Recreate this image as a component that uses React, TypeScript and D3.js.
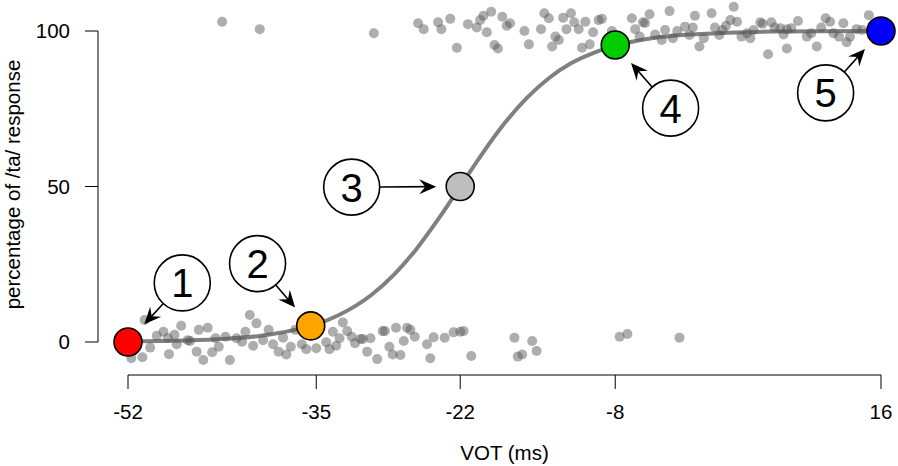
import React from "react";
import * as d3 from "d3";

// x ticks (VOT, ms) and y ticks (percentage)
const xTicks = [-52, -35, -22, -8, 16];
const yTicks = [0, 50, 100];

// scatter of individual responses: [VOT, percentage]
const lowDots: [number, number][] = [
  [-50.5, 7.1], [-47.2, 5.2], [-48.8, 3.3], [-49.4, 2.0], [-48.4, 1.3], [-47.8, 2.3], [-50.0, -1.8],
  [-50.7, -4.9], [-51.7, -5.2], [-48.3, -3.9], [-47.6, -0.7], [-46.6, 0.6], [-46.4, 0.3], [-45.6, 3.9],
  [-44.8, 4.6], [-45.8, -3.1], [-45.2, -5.8], [-44.4, -3.3], [-44.1, 1.2], [-43.8, -1.5], [-43.2, 1.7],
  [-42.8, -5.8], [-42.2, 1.2], [-41.7, 0.1], [-41.4, 3.3], [-41.0, 8.7], [-40.4, 6.0], [-40.7, -1.2],
  [-39.3, 3.9], [-39.8, 0.6], [-38.9, -0.7], [-38.4, -3.1], [-38.0, 1.4], [-37.7, -4.0], [-37.3, -1.5],
  [-36.9, 3.9], [-36.3, -0.7], [-35.9, -2.3], [-35.0, -2.0], [-34.1, -0.1], [-33.8, -2.3], [-33.5, 3.3],
  [-33.2, -1.2], [-32.9, 1.2], [-32.6, 6.3], [-32.2, 3.5], [-31.8, 1.7], [-31.5, -0.4], [-31.0, 1.0],
  [-30.8, 1.0], [-30.1, 1.2], [-30.4, -3.1], [-29.5, -5.5], [-29.0, 3.5], [-28.8, 3.5], [-28.4, -1.5],
  [-28.1, -4.0], [-27.8, 4.6], [-27.4, -4.2], [-27.1, 0.3], [-26.8, 4.6], [-26.5, 3.9], [-26.1, 1.7],
  [-25.0, -0.7], [-24.7, -5.2], [-24.4, 1.5], [-23.4, 1.4], [-22.6, 3.1], [-22.0, 3.3], [-21.7, 3.5],
  [-21.0, -4.5], [-17.1, 1.4], [-15.5, 0.3], [-15.1, -2.9], [-16.4, -4.0], [-16.8, -4.7], [-7.6, 1.7],
  [-6.9, 2.6], [-2.2, 1.4],
];

const highDots: [number, number][] = [
  [-43.5, 103.0], [-40.1, 100.6], [-29.8, 99.3], [-25.8, 102.5], [-25.3, 100.6], [-24.0, 102.8],
  [-23.7, 100.6], [-22.9, 103.9], [-22.3, 94.6], [-21.3, 102.2], [-20.5, 101.1], [-20.2, 103.5],
  [-19.9, 104.9], [-19.2, 106.2], [-19.6, 99.6], [-18.9, 95.5], [-18.6, 94.4], [-18.2, 104.6],
  [-17.8, 101.7], [-17.5, 102.5], [-16.2, 100.0], [-15.8, 95.7], [-14.7, 100.6], [-14.4, 105.7],
  [-14.0, 104.1], [-13.7, 95.0], [-13.4, 98.2], [-13.1, 97.1], [-12.7, 104.3], [-12.4, 100.6],
  [-12.0, 105.7], [-11.7, 102.8], [-11.3, 100.6], [-10.7, 103.0], [-10.0, 99.6], [-9.5, 103.5],
  [-9.2, 103.9], [-10.3, 95.7], [-11.0, 94.6], [-8.3, 100.0], [-6.5, 104.1], [-6.2, 100.6],
  [-5.5, 102.8], [-5.3, 102.6], [-4.9, 105.4], [-5.8, 98.2], [-4.4, 98.9], [-3.8, 97.1], [-3.5, 100.3],
  [-3.1, 106.4], [-2.8, 97.7], [-2.4, 100.0], [-1.7, 101.4], [-1.3, 98.7], [-0.8, 104.9], [-1.0, 101.1],
  [-0.4, 95.0], [0.0, 97.7], [0.7, 105.7], [1.0, 101.1], [1.4, 98.7], [1.7, 100.3], [2.0, 101.7],
  [2.4, 103.5], [2.7, 107.8], [3.0, 103.0], [3.4, 98.2], [3.9, 99.3], [4.2, 97.7], [4.5, 100.3],
  [5.1, 102.8], [5.3, 102.3], [6.1, 102.8], [5.8, 92.5], [6.4, 101.1], [6.9, 100.9], [7.2, 98.9],
  [7.5, 94.4], [7.9, 100.9], [8.5, 103.2], [7.5, 100.6], [9.3, 98.2], [9.7, 99.3], [10.2, 95.0],
  [10.6, 101.1], [11.0, 104.1], [11.4, 103.0], [11.7, 99.3], [12.2, 98.2], [12.6, 102.5], [13.2, 98.2],
  [12.9, 96.4], [13.8, 100.6], [14.3, 100.3], [14.9, 105.1],
];

// fitted identification curve: [VOT, percentage]
const curveX = [-52, -48, -44, -40, -36, -35, -33, -30, -28, -26, -24, -22, -20, -18, -16, -14, -12, -10, -8, -5, -2, 2, 6, 10, 16];
const curveY = [0.2, 0.4, 0.9, 2.0, 4.7, 5.7, 8.6, 15.2, 21.6, 29.7, 39.4, 50, 60.6, 70.3, 78.4, 84.8, 89.6, 92.9, 95.2, 97.5, 98.7, 99.4, 99.8, 99.9, 100];

// highlighted stimuli
const stimLabels = ["1", "2", "3", "4", "5"];
const stimX = [-52, -35.5, -22, -8, 16];
const stimY = [0, 5.2, 50, 95.5, 100];
const stimColors = ["#ff0000", "#ffa500", "#bebebe", "#00cd00", "#0000ff"];
// callout bubble centres (data units)
const calloutX = [-47.1, -40.3, -31.8, -3.0, 11.0];
const calloutY = [19.0, 25.2, 49.8, 75.2, 80.1];

const W = 898;
const H = 466;
const FONT = "'Liberation Sans', Arial, Helvetica, sans-serif";
const FS = 20.5;

export default function App() {
  const x = d3.scaleLinear().domain([-52, 16]).range([128, 881]);
  const y = d3.scaleLinear().domain([0, 100]).range([342, 31]);

  const curvePts = curveX.map((v, i) => [v, curveY[i]] as [number, number]);
  const line = d3
    .line<[number, number]>()
    .x((d) => x(d[0]))
    .y((d) => y(d[1]))
    .curve(d3.curveMonotoneX);

  const axisY = 375;
  const dots = [...lowDots, ...highDots];

  const bubbleR = 28;
  const pointR = 14;

  return (
    <svg
      width={W}
      height={H}
      style={{ position: "absolute", left: 0, top: 0, background: "#fff" }}
      fontFamily={FONT}
    >
      <rect x={0} y={0} width={W} height={H} fill="#fff" />
      {/* y axis */}
      <line x1={98} x2={98} y1={y(0)} y2={y(100)} stroke="#000" strokeWidth={1} />
      {yTicks.map((t) => (
        <g key={"yt" + t}>
          <line x1={85} x2={98} y1={y(t)} y2={y(t)} stroke="#000" strokeWidth={1} />
          <text x={70} y={y(t)} dy="0.36em" textAnchor="end" fontSize={FS}>
            {t}
          </text>
        </g>
      ))}
      <text
        transform={`translate(20, ${y(50) - 2}) rotate(-90)`}
        textAnchor="middle"
        fontSize={FS}
      >
        percentage of /ta/ response
      </text>
      {/* x axis */}
      <line x1={x(-52)} x2={x(16)} y1={axisY} y2={axisY} stroke="#000" strokeWidth={1} />
      {xTicks.map((t) => (
        <g key={"xt" + t}>
          <line x1={x(t)} x2={x(t)} y1={axisY} y2={axisY + 14} stroke="#000" strokeWidth={1} />
          <text x={x(t)} y={419} textAnchor="middle" fontSize={FS}>
            {t}
          </text>
        </g>
      ))}
      <text x={(x(-52) + x(16)) / 2} y={460} textAnchor="middle" fontSize={FS}>
        VOT (ms)
      </text>

      {/* curve */}
      <path d={line(curvePts) || ""} fill="none" stroke="#808080" strokeWidth={4} />

      {/* dots */}
      {dots.map((d, i) => (
        <circle key={"d" + i} cx={x(d[0])} cy={y(d[1])} r={5} fill="#555" fillOpacity={0.48} />
      ))}

      {/* arrows & callouts */}
      {stimLabels.map((lab, i) => {
        const px = x(stimX[i]);
        const py = y(stimY[i]);
        const cx = x(calloutX[i]);
        const cy = y(calloutY[i]);
        const dx = px - cx;
        const dy = py - cy;
        const dist = Math.sqrt(dx * dx + dy * dy);
        const ux = dx / dist;
        const uy = dy / dist;
        const sx = cx + ux * bubbleR;
        const sy = cy + uy * bubbleR;
        const tipD = dist - 24;
        const tx = cx + ux * tipD;
        const ty = cy + uy * tipD;
        const ang = (Math.atan2(uy, ux) * 180) / Math.PI;
        return (
          <g key={"a" + i}>
            <line x1={sx} y1={sy} x2={tx - ux * 6} y2={ty - uy * 6} stroke="#000" strokeWidth={1.6} />
            <path
              d="M0,0 L-17,-7.5 L-11,0 L-17,7.5 Z"
              transform={`translate(${tx},${ty}) rotate(${ang})`}
              fill="#000"
            />
            <circle cx={cx} cy={cy} r={bubbleR} fill="#fff" stroke="#000" strokeWidth={1.6} />
            <text x={cx} y={cy} dy="0.36em" textAnchor="middle" fontSize={40}>
              {lab}
            </text>
          </g>
        );
      })}

      {/* highlighted stimuli */}
      {stimLabels.map((lab, i) => (
        <circle
          key={"p" + lab}
          cx={x(stimX[i])}
          cy={y(stimY[i])}
          r={pointR}
          fill={stimColors[i]}
          stroke="#000"
          strokeWidth={1.6}
        />
      ))}
    </svg>
  );
}
